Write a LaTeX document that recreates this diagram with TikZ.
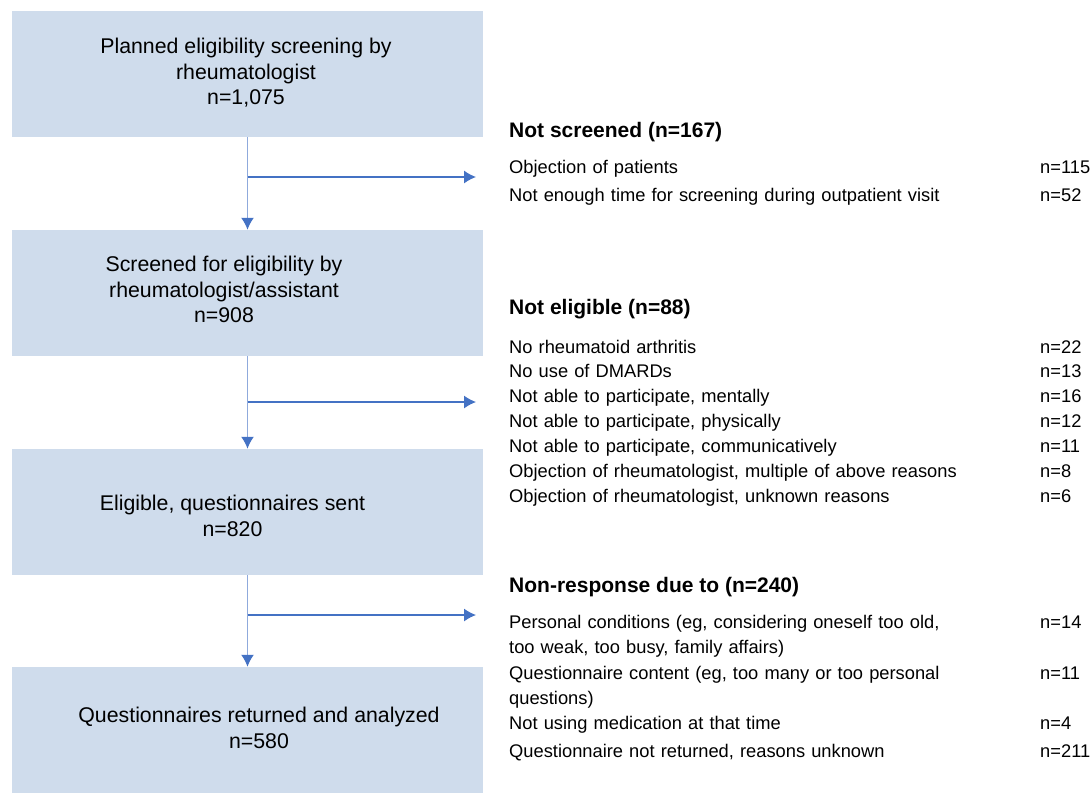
\documentclass[tikz,border=0pt]{standalone}
\usepackage{fontspec}
\setmainfont{Liberation Sans}
\usetikzlibrary{arrows.meta,positioning}

\definecolor{boxfill}{RGB}{207,220,236}
\definecolor{flowblue}{RGB}{68,114,196}
\definecolor{flowlight}{RGB}{143,170,220}

\begin{document}
\begin{tikzpicture}[
x=1pt,y=-1pt,
stage/.style={
  draw=none,
  fill=boxfill,
  minimum width=471pt,
  minimum height=126pt
  },
stagetext/.style={
  align=center,
  inner sep=0pt,
  font=\fontsize{21.3}{25.5}\selectfont
  },
head/.style={
  anchor=base west,
  inner sep=0pt,
  font=\fontsize{21}{25}\selectfont\bfseries
  },
item/.style={
  anchor=base west,
  inner sep=0pt,
  text width=500pt,
  align=left,
  font=\fontsize{18.3}{25}\selectfont
  },
count/.style={
  anchor=base west,
  inner sep=0pt,
  font=\fontsize{18.3}{25}\selectfont
  },
flow/.style={
  draw=flowblue,
  line width=1.2pt,
  -{Latex[length=12pt,width=13pt,color=flowblue]}
  },
down/.style={
  flow,
  draw=flowlight,
  line width=1.6pt
  }
]
\useasboundingbox (0,0) rectangle (1091,792);

% left column
\node[stage,label={[stagetext,name=plan-t,xshift=-1.5pt,yshift=1pt]center:Planned eligibility screening by\\rheumatologist\\n=1,075}] (plan) at (247.5,74) {};
\node[stage,label={[stagetext,name=scr-t,xshift=-23.5pt,yshift=3.5pt]center:Screened for eligibility by\\rheumatologist/assistant\\n=908}] (scr) at (247.5,293) {};
\node[stage,label={[stagetext,name=elig-t,xshift=-15pt,yshift=-4pt]center:Eligible, questionnaires sent\\n=820}] (elig) at (247.5,512) {};
\node[stage,label={[stagetext,name=ret-t,xshift=11.5pt,yshift=2pt]center:Questionnaires returned and analyzed\\n=580}] (ret) at (247.5,730) {};

\draw[down] (plan) -- (scr);
\draw[down] (scr) -- (elig);
\draw[down] (elig) -- (ret);

% branches
\foreach \nm/\yy in {ex1/177,ex2/402,ex3/615}
{
  \coordinate (\nm-s) at (247.5,\yy);
  \coordinate (\nm-e) at (476,\yy);
  \draw[flow] (\nm-s) -- (\nm-e);
}

% right column
\node[head] (h1) at (509,137) {Not screened (n=167)};
\foreach \txt/\n/\yy [count=\i] in {
  Objection of patients/115/173,
  Not enough time for screening during outpatient visit/52/201}
{
  \node[item] (ns-\i) at (509,\yy) {\txt};
  \node[count] (nsn-\i) at (1040,\yy) {n=\n};
}

\node[head] (h2) at (509,314) {Not eligible (n=88)};
\foreach \txt/\n/\yy [count=\i] in {
  No rheumatoid arthritis/22/353,
  No use of DMARDs/13/377,
  {Not able to participate, mentally}/16/402,
  {Not able to participate, physically}/12/427,
  {Not able to participate, communicatively}/11/452,
  {Objection of rheumatologist, multiple of above reasons}/8/477,
  {Objection of rheumatologist, unknown reasons}/6/502}
{
  \node[item] (ne-\i) at (509,\yy) {\txt};
  \node[count] (nen-\i) at (1040,\yy) {n=\n};
}

\node[head] (h3) at (509,592) {Non-response due to (n=240)};
\foreach \txt/\n/\yy [count=\i] in {
  {Personal conditions (eg, considering oneself too old,\\too weak, too busy, family affairs)}/14/628,
  {Questionnaire content (eg, too many or too personal\\questions)}/11/679,
  Not using medication at that time/4/729,
  {Questionnaire not returned, reasons unknown}/211/757}
{
  \node[item] (nr-\i) at (509,\yy) {\txt};
  \node[count] (nrn-\i) at (1040,\yy) {n=\n};
}

\end{tikzpicture}
\end{document}
